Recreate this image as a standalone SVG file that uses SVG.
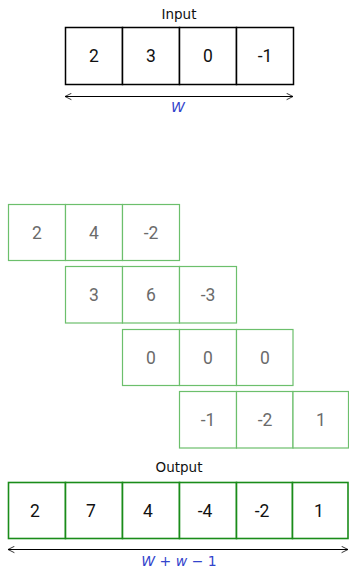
<svg xmlns="http://www.w3.org/2000/svg" width="349" height="570" viewBox="0 0 349 570">
<defs>
<marker id="ah" viewBox="0 0 10 10" refX="9" refY="5" markerWidth="8" markerHeight="8" orient="auto-start-reverse" markerUnits="userSpaceOnUse">
<path d="M1,1 L9,5 L1,9" fill="none" stroke="#000" stroke-width="1"/>
</marker>
</defs>
<style>
.in rect{fill:#fff;stroke:#000;stroke-width:1.5}
.mid rect{fill:#fff;stroke:#6cbf6c;stroke-width:1.2}
.out rect{fill:#fff;stroke:#1a8c1a;stroke-width:1.6}
.v{font-family:Roboto,"Liberation Sans",sans-serif;font-size:17.5px;text-anchor:middle;dominant-baseline:central}
.in .v,.out .v{fill:#111}
.mid .v{fill:#6b6b6b}
.lbl{font-family:"DejaVu Sans","Liberation Sans",sans-serif;font-size:13.5px;text-anchor:middle;fill:#111}
.math{font-family:"DejaVu Sans","Liberation Sans",sans-serif;font-size:14px;text-anchor:middle;fill:#3344cc}
.arr{stroke:#000;stroke-width:1;fill:none;marker-start:url(#ah);marker-end:url(#ah)}
</style>
<g id="input" class="in">
<text class="lbl" x="179" y="19">Input</text>
<rect x="65.5" y="27.5" width="57" height="57"/><text class="v" x="94" y="56">2</text>
<rect x="122.5" y="27.5" width="57" height="57"/><text class="v" x="151" y="56">3</text>
<rect x="179.5" y="27.5" width="57" height="57"/><text class="v" x="208" y="56">0</text>
<rect x="236.5" y="27.5" width="57" height="57"/><text class="v" x="265" y="56">-1</text>
</g>
<g id="row1" class="mid">
<rect x="8.5" y="204.5" width="57" height="56"/><text class="v" x="37" y="233">2</text>
<rect x="65.5" y="204.5" width="57" height="56"/><text class="v" x="94" y="233">4</text>
<rect x="122.5" y="204.5" width="57" height="56"/><text class="v" x="151" y="233">-2</text>
</g>
<g id="row2" class="mid">
<rect x="65.5" y="266.5" width="57" height="56.5"/><text class="v" x="94" y="295">3</text>
<rect x="122.5" y="266.5" width="57" height="56.5"/><text class="v" x="151" y="295">6</text>
<rect x="179.5" y="266.5" width="57" height="56.5"/><text class="v" x="208" y="295">-3</text>
</g>
<g id="row3" class="mid">
<rect x="122.5" y="329.5" width="57" height="56"/><text class="v" x="151" y="357.5">0</text>
<rect x="179.5" y="329.5" width="57" height="56"/><text class="v" x="208" y="357.5">0</text>
<rect x="236.5" y="329.5" width="56.5" height="56"/><text class="v" x="265" y="357.5">0</text>
</g>
<g id="row4" class="mid">
<rect x="179.5" y="391.5" width="57" height="56.5"/><text class="v" x="208" y="420">-1</text>
<rect x="236.5" y="391.5" width="56.5" height="56.5"/><text class="v" x="265" y="420">-2</text>
<rect x="293" y="391.5" width="55.5" height="56.5"/><text class="v" x="321" y="420">1</text>
</g>
<g id="output" class="out">
<text class="lbl" x="179" y="472">Output</text>
<rect x="8.5" y="482.5" width="57" height="56"/><text class="v" x="35" y="511">2</text>
<rect x="65.5" y="482.5" width="57" height="56"/><text class="v" x="91" y="511">7</text>
<rect x="122.5" y="482.5" width="57" height="56"/><text class="v" x="148" y="511">4</text>
<rect x="179.5" y="482.5" width="57" height="56"/><text class="v" x="205" y="511">-4</text>
<rect x="236.5" y="482.5" width="56" height="56"/><text class="v" x="262" y="511">-2</text>
<rect x="292.5" y="482.5" width="55.5" height="56"/><text class="v" x="319" y="511">1</text>
</g>
<g id="connectors">
<line class="arr" x1="65" y1="96.5" x2="293" y2="96.5"/>
<text class="math" x="178" y="112" font-style="italic">W</text>
<line class="arr" x1="8" y1="549.5" x2="348" y2="549.5"/>
<text class="math" x="179" y="566"><tspan font-style="italic">W</tspan> + <tspan font-style="italic">w</tspan> − 1</text>
</g>
</svg>
